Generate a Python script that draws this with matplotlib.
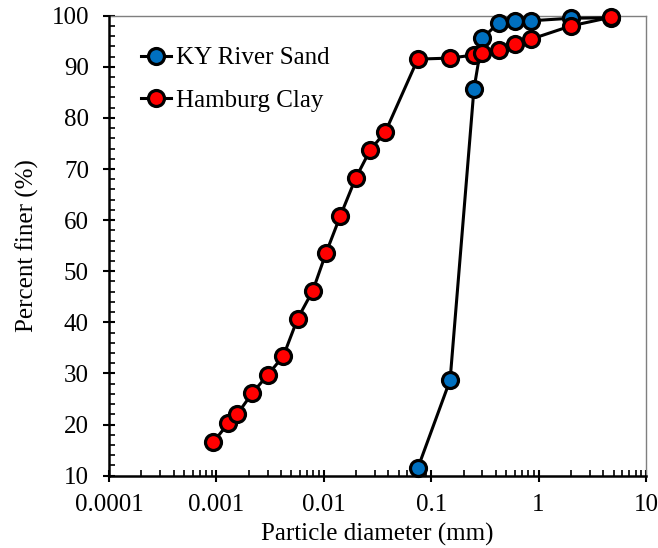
import matplotlib
matplotlib.use("Agg")
import matplotlib.pyplot as plt

plt.rcParams['font.family'] = ['Liberation Serif', 'DejaVu Serif']

sand_d = [0.075, 0.15, 0.25, 0.3, 0.425, 0.6, 0.85, 2.0, 4.75]
sand_pf = [11.45, 28.7, 85.6, 95.6, 98.6, 99.0, 99.0, 99.5, 99.6]

clay_d = [0.00093, 0.00129, 0.00157, 0.00215, 0.0030, 0.0042, 0.0057, 0.0079,
          0.0105, 0.0143, 0.0198, 0.027, 0.0375,
          0.075, 0.15, 0.25, 0.3, 0.425, 0.6, 0.85, 2.0, 4.75]
clay_pf = [16.5, 20.25, 22.1, 26.1, 29.7, 33.4, 40.7, 46.2,
           53.6, 60.9, 68.2, 73.7, 77.3,
           91.5, 91.7, 92.3, 92.6, 93.3, 94.5, 95.4, 98.0, 99.7]

x_ticks = [0.0001, 0.001, 0.01, 0.1, 1, 10]
x_labels = ['0.0001', '0.001', '0.01', '0.1', '1', '10']
y_ticks = [10, 20, 30, 40, 50, 60, 70, 80, 90, 100]

fig = plt.figure(figsize=(6.58, 5.48), dpi=100)
ax = fig.add_axes([0.1657, 0.132, 0.816, 0.8394])

ms = 11.5
mew = 2.3
lw = 2.2
ax.plot(sand_d, sand_pf, '-o', color='black', lw=lw, markersize=ms,
        markerfacecolor='#0070C0', markeredgecolor='black', markeredgewidth=mew,
        label='KY River Sand', zorder=3, clip_on=False)
ax.plot(clay_d, clay_pf, '-o', color='black', lw=lw, markersize=ms,
        markerfacecolor='#FF0000', markeredgecolor='black', markeredgewidth=mew,
        label='Hamburg Clay', zorder=4, clip_on=False)

ax.set_xscale('log')
ax.set_xlim(0.0001, 10)
ax.set_ylim(10, 100)
ax.set_xticks(x_ticks)
ax.set_xticklabels(x_labels)
ax.set_yticks(y_ticks)
ax.yaxis.set_minor_locator(matplotlib.ticker.MultipleLocator(2))
ax.xaxis.set_minor_locator(matplotlib.ticker.LogLocator(base=10, subs=range(2, 10)))
ax.xaxis.set_minor_formatter(matplotlib.ticker.NullFormatter())

fs = 18
ax.tick_params(axis='both', which='major', direction='inout', length=9, width=1.5,
               labelsize=fs, color='black')
ax.tick_params(axis='x', which='major', pad=9)
ax.tick_params(axis='y', which='major', pad=10)
ax.tick_params(axis='both', which='minor', direction='in', length=4.5, width=1.2,
               color='black')
ax.tick_params(top=False, right=False, which='both')

ax.spines['left'].set_linewidth(1.8)
ax.spines['bottom'].set_linewidth(1.8)
ax.spines['top'].set_color('#7f7f7f')
ax.spines['right'].set_color('#7f7f7f')
ax.spines['top'].set_linewidth(1.0)
ax.spines['right'].set_linewidth(1.0)
ax.spines['left'].set_zorder(5)
ax.spines['bottom'].set_zorder(5)

ax.set_xlabel('Particle diameter (mm)', fontsize=fs, labelpad=5)
ax.set_ylabel('Percent finer (%)', fontsize=fs, labelpad=9)

leg = ax.legend(loc='upper left', bbox_to_anchor=(0.06, 0.932), frameon=False,
                fontsize=fs, handlelength=1.2, handletextpad=0.2,
                labelspacing=0.8, borderaxespad=0.0, borderpad=0.0)

fig.savefig('out.png', dpi=100)
